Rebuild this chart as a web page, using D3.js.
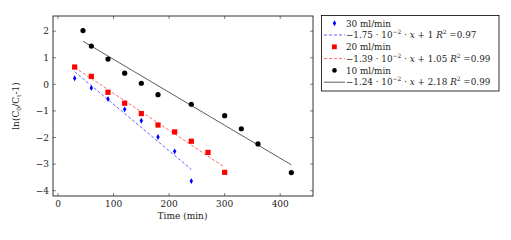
<!DOCTYPE html>
<html>
<head>
<meta charset="utf-8">
<script src="https://cdn.jsdelivr.net/npm/d3@7"></script>
<style>
body { margin: 0; background: #fff; }
svg text { font-family: "DejaVu Serif", "Liberation Serif", serif; }
</style>
</head>
<body>
<div id="chart"></div>
<script>
// values
var x10 = [45, 60, 90, 120, 150, 180, 240, 300, 330, 360, 420];
var y10 = [2.02, 1.44, 0.95, 0.42, 0.04, -0.39, -0.75, -1.18, -1.67, -2.24, -3.32];
var x20 = [30, 60, 90, 120, 150, 180, 210, 240, 270, 300];
var y20 = [0.65, 0.30, -0.30, -0.71, -1.10, -1.53, -1.79, -2.14, -2.56, -3.31];
var x30 = [30, 60, 90, 120, 150, 180, 210, 240];
var y30 = [0.23, -0.14, -0.55, -0.94, -1.37, -1.98, -2.52, -3.64];
var fits = [
  {name: "30", slope: -1.75, icpt: 1, r2: "0.97", from: 30, to: 240},
  {name: "20", slope: -1.39, icpt: 1.05, r2: "0.99", from: 30, to: 300},
  {name: "10", slope: -1.24, icpt: 2.18, r2: "0.99", from: 45, to: 420}
];
var xTicks = [0, 100, 200, 300, 400];
var yTicks = [-4, -3, -2, -1, 0, 1, 2];

var W = 511, H = 240;
var svg = d3.select("#chart").append("svg").attr("width", W).attr("height", H);

var pl = 53, pr = 313, pt = 16, pb = 196;
var x = d3.scaleLinear().domain([-9, 459]).range([pl, pr]);
var y = d3.scaleLinear().domain([-4.2, 2.57]).range([pb, pt]);

// ticks, inward on all four sides
var g = svg.append("g");
xTicks.forEach(function(t) {
  g.append("line").attr("x1", x(t)).attr("x2", x(t)).attr("y1", pb).attr("y2", pb - 3).attr("stroke", "#000").attr("stroke-width", 0.5);
  g.append("line").attr("x1", x(t)).attr("x2", x(t)).attr("y1", pt).attr("y2", pt + 3).attr("stroke", "#000").attr("stroke-width", 0.5);
  g.append("text").attr("x", x(t)).attr("y", pb + 11).attr("text-anchor", "middle").attr("font-size", 9).attr("fill", "#222").text(t);
});
yTicks.forEach(function(t) {
  g.append("line").attr("x1", pl).attr("x2", pl + 3).attr("y1", y(t)).attr("y2", y(t)).attr("stroke", "#000").attr("stroke-width", 0.5);
  g.append("line").attr("x1", pr).attr("x2", pr - 3).attr("y1", y(t)).attr("y2", y(t)).attr("stroke", "#000").attr("stroke-width", 0.5);
  g.append("text").attr("x", pl - 4).attr("y", y(t) + 3.3).attr("text-anchor", "end").attr("font-size", 9).attr("fill", "#222")
    .text(t < 0 ? "\u2212" + Math.abs(t) : t);
});
svg.append("rect").attr("x", pl).attr("y", pt).attr("width", pr - pl).attr("height", pb - pt)
  .attr("fill", "none").attr("stroke", "#000").attr("stroke-width", 0.8);

// axis labels
svg.append("text").attr("x", 182.5).attr("y", 219).attr("text-anchor", "middle").attr("font-size", 9).attr("fill", "#222").text("Time (min)");
var yl = svg.append("text").attr("transform", "translate(19,106) rotate(-90)")
  .attr("text-anchor", "middle").attr("font-size", 9).attr("fill", "#222");
yl.append("tspan").text("ln(C");
yl.append("tspan").attr("font-size", 6).attr("dy", 2).text("0");
yl.append("tspan").attr("dy", -2).text("/C");
yl.append("tspan").attr("font-size", 6).attr("dy", 2).text("t");
yl.append("tspan").attr("dy", -2).text("-1)");

// fitted lines
var styles = {"30": {c: "#3a3aff", dash: "3,2"}, "20": {c: "#ff4040", dash: "3,2"}, "10": {c: "#333", dash: null}};
fits.forEach(function(f) {
  var s = styles[f.name];
  svg.append("line")
    .attr("x1", x(f.from)).attr("y1", y(f.slope / 100 * f.from + f.icpt))
    .attr("x2", x(f.to)).attr("y2", y(f.slope / 100 * f.to + f.icpt))
    .attr("stroke", s.c).attr("stroke-width", 0.8).attr("stroke-dasharray", s.dash);
});

// points
var diamond = d3.symbol().type(d3.symbolDiamond).size(10);
svg.selectAll(".p30").data(x30).enter().append("path")
  .attr("d", diamond).attr("transform", function(d, i) { return "translate(" + x(d) + "," + y(y30[i]) + ")"; })
  .attr("fill", "#0000ff");
svg.selectAll(".p20").data(x20).enter().append("rect")
  .attr("x", function(d) { return x(d) - 2.6; }).attr("y", function(d, i) { return y(y20[i]) - 2.6; })
  .attr("width", 5.2).attr("height", 5.2).attr("fill", "#ff0000");
svg.selectAll(".p10").data(x10).enter().append("circle")
  .attr("cx", function(d) { return x(d); }).attr("cy", function(d, i) { return y(y10[i]); })
  .attr("r", 2.6).attr("fill", "#000");

// legend
var lg = svg.append("g");
lg.append("rect").attr("x", 321.5).attr("y", 15.5).attr("width", 177.5).attr("height", 75.5)
  .attr("fill", "#fff").attr("stroke", "#000").attr("stroke-width", 0.8);
var rowY = [23.3, 35, 46.8, 58.6, 70.4, 82.2];
var fs = 8.8;
function eqText(sel, f) {
  sel.append("tspan").text("\u2212" + Math.abs(f.slope).toFixed(2) + " \u00b7 10");
  sel.append("tspan").attr("font-size", 6).attr("dy", -4).text("\u22122");
  sel.append("tspan").attr("dy", 4).text(" \u00b7 ");
  sel.append("tspan").attr("font-style", "italic").text("x");
  sel.append("tspan").text(" + " + f.icpt + " ");
  sel.append("tspan").attr("font-style", "italic").text("R");
  sel.append("tspan").attr("font-size", 6).attr("dy", -4).text("2");
  sel.append("tspan").attr("dy", 4).text(" =" + f.r2);
}
fits.forEach(function(f, i) {
  var s = styles[f.name];
  var ym = rowY[i * 2], yf = rowY[i * 2 + 1];
  if (f.name === "30") lg.append("path").attr("d", diamond).attr("transform", "translate(334.5," + ym + ")").attr("fill", "#0000ff");
  if (f.name === "20") lg.append("rect").attr("x", 332).attr("y", ym - 2.4).attr("width", 4.8).attr("height", 4.8).attr("fill", "#ff0000");
  if (f.name === "10") lg.append("circle").attr("cx", 334.5).attr("cy", ym).attr("r", 2.3).attr("fill", "#000");
  lg.append("text").attr("x", 346).attr("y", ym + 3.2).attr("font-size", fs).attr("fill", "#222").text(f.name + " ml/min");
  lg.append("line").attr("x1", 324).attr("x2", 345).attr("y1", yf).attr("y2", yf)
    .attr("stroke", s.c).attr("stroke-width", 0.8).attr("stroke-dasharray", s.dash);
  eqText(lg.append("text").attr("x", 346).attr("y", yf + 3.2).attr("font-size", fs).attr("fill", "#222"), f);
});
</script>
</body>
</html>
